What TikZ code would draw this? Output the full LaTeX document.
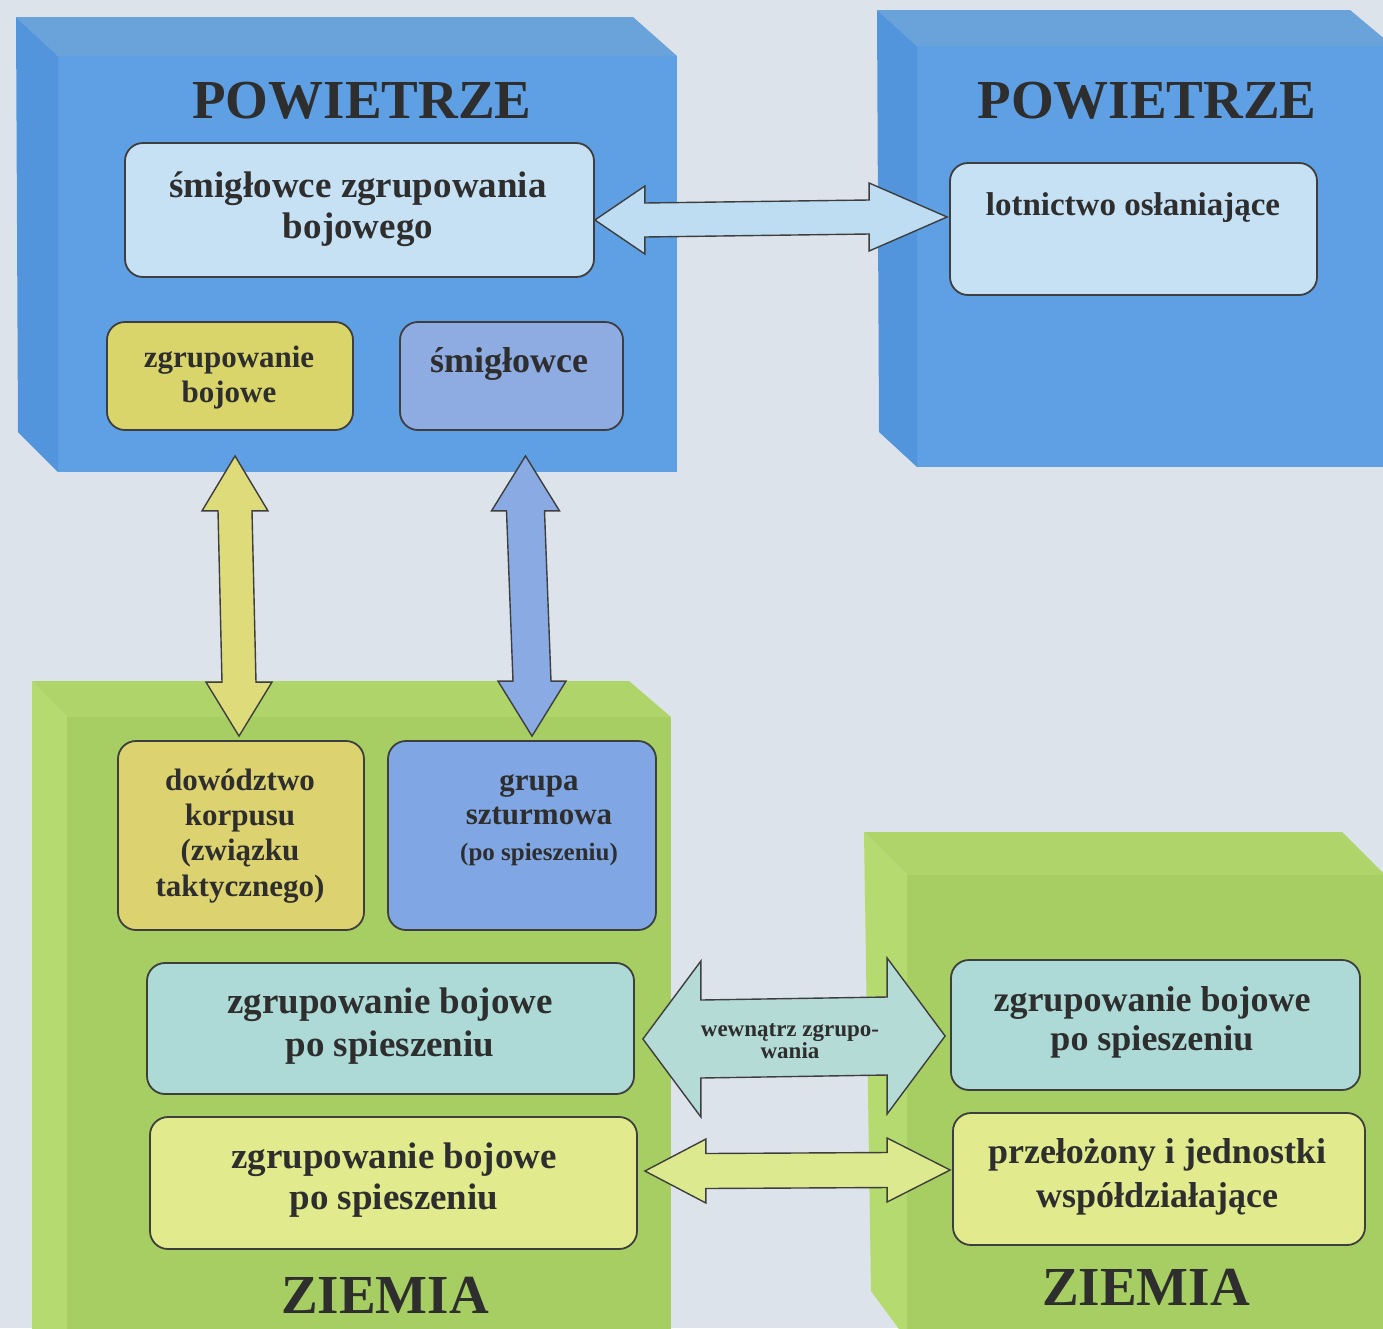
\documentclass[tikz,border=0pt]{standalone}
\usepackage{fontspec}
\setmainfont{Liberation Serif}
\usetikzlibrary{calc}
\definecolor{bg}{HTML}{DDE3EA}
\definecolor{blfront}{HTML}{5EA0E3}
\definecolor{bltop}{HTML}{6AA2DA}
\definecolor{blleft}{HTML}{5295DD}
\definecolor{grfront}{HTML}{A6CE62}
\definecolor{grtop}{HTML}{AED46A}
\definecolor{grleft}{HTML}{B5DA70}
\definecolor{lightblue}{HTML}{C6E0F4}
\definecolor{yelbox}{HTML}{D9D56A}
\definecolor{violbox}{HTML}{8EABE2}
\definecolor{yelbox2}{HTML}{DDD270}
\definecolor{bluebox}{HTML}{80A7E3}
\definecolor{tealbox}{HTML}{ADDAD6}
\definecolor{ygbox}{HTML}{E1EB8E}
\definecolor{arrblue}{HTML}{BEDCF2}
\definecolor{arryel}{HTML}{DEDB7A}
\definecolor{arrviol}{HTML}{89AAE3}
\definecolor{arrteal}{HTML}{B4DBD6}
\definecolor{arryg}{HTML}{DDE98E}
\definecolor{txt}{HTML}{2E2E2E}
\definecolor{edge}{HTML}{3E3E3E}
\newcommand\fs[2]{\fontsize{#1}{#2}\selectfont\bfseries}
\newcommand\harrow[7]{%
  \draw[arrline, fill=#7] let \p1=(#1), \p2=(#2) in
   (\p1) -- (\x1+#5pt,\y1+#4pt) -- (\x1+#5pt,\y1+#3pt) -- (\x2-#6pt,\y2+#3pt)
   -- (\x2-#6pt,\y2+#4pt) -- (\p2) -- (\x2-#6pt,\y2-#4pt) -- (\x2-#6pt,\y2-#3pt)
   -- (\x1+#5pt,\y1-#3pt) -- (\x1+#5pt,\y1-#4pt) -- cycle;}
\newcommand\varrow[7]{%
  \draw[arrline, fill=#7] let \p1=(#1), \p2=(#2) in
   (\p1) -- (\x1+#4pt,\y1-#5pt) -- (\x1+#3pt,\y1-#5pt) -- (\x2+#3pt,\y2+#6pt)
   -- (\x2+#4pt,\y2+#6pt) -- (\p2) -- (\x2-#4pt,\y2+#6pt) -- (\x2-#3pt,\y2+#6pt)
   -- (\x1-#3pt,\y1-#5pt) -- (\x1-#4pt,\y1-#5pt) -- cycle;}
\tikzset{
  box/.style={draw=edge, line width=1.8pt, rounded corners=18pt, inner sep=0pt},
  lbl/.style={text=txt, align=center, anchor=base, inner sep=0pt},
  arrline/.style={draw=edge, line width=1.4pt, line join=miter},
}
\begin{document}
\begin{tikzpicture}[x=1pt,y=-1pt]
\useasboundingbox (0,0) rectangle (1383,1328);
\fill[bg] (0,0) rectangle (1383,1328);
\begin{scope}
\clip (0,0) rectangle (1383,1328);
% top-left blue block
\fill[blfront] (58,56) rectangle (677,472);
\fill[bltop] (16,17) -- (633,17) -- (677,56) -- (58,56) -- cycle;
\fill[blleft] (16,17) -- (58,56) -- (58,472) -- (18,432) -- cycle;
% top-right blue block
\fill[blfront] (917,46) rectangle (1390,467);
\fill[bltop] (877,10) -- (1350,10) -- (1393,46) -- (917,46) -- cycle;
\fill[blleft] (877,10) -- (917,46) -- (917,467) -- (879,432) -- cycle;
% bottom-left green block
\fill[grfront] (67,717) rectangle (671,1340);
\fill[grtop] (32,681) -- (629,681) -- (671,717) -- (67,717) -- cycle;
\fill[grleft] (32,681) -- (67,717) -- (67,1340) -- (32,1340) -- cycle;
% bottom-right green block
\fill[grfront] (907,875) rectangle (1390,1340);
\fill[grtop] (864,832) -- (1342,832) -- (1385,875) -- (907,875) -- cycle;
\fill[grleft] (864,832) -- (907,875) -- (907,1340) -- (871,1291) -- cycle;
\end{scope}
% boxes
\node[box, fill=lightblue, minimum width=469pt, minimum height=134pt] (hsz) at (359.5,210) {};
\node[box, fill=yelbox, minimum width=246pt, minimum height=108pt] (zb) at (230,376) {};
\node[box, fill=violbox, minimum width=223pt, minimum height=108pt] (smig) at (511.5,376) {};
\node[box, fill=lightblue, minimum width=367pt, minimum height=132pt] (lot) at (1133.5,229) {};
\node[box, fill=yelbox2, minimum width=246pt, minimum height=189pt] (dow) at (241,835.5) {};
\node[box, fill=bluebox, minimum width=268pt, minimum height=189pt] (grp) at (522,835.5) {};
\node[box, fill=tealbox, minimum width=487pt, minimum height=131pt] (teal1) at (390.5,1028.5) {};
\node[box, fill=ygbox, minimum width=487pt, minimum height=132pt] (yg1) at (393.5,1183) {};
\node[box, fill=tealbox, minimum width=409pt, minimum height=130pt] (teal2) at (1155.5,1025) {};
\node[box, fill=ygbox, minimum width=412pt, minimum height=132pt] (yg2) at (1159,1179) {};
% connector end points
\coordinate (a1) at (hsz.east |- 0,220);
\coordinate (a2) at ($(lot.west |- 0,217)+(-2,0)$);
\coordinate (b1) at ($(zb.south)+(5,25)$);
\coordinate (b2) at ($(dow.north)+(-2,-4)$);
\coordinate (c1) at ($(smig.south)+(14,25)$);
\coordinate (c2) at ($(grp.north)+(10,-4)$);
\coordinate (d1) at ($(teal1.east |- 0,1039)+(8,0)$);
\coordinate (d2) at ($(teal2.west |- 0,1036)+(-5,0)$);
\coordinate (e1) at ($(yg1.east |- 0,1171)+(7,0)$);
\coordinate (e2) at ($(yg2.west |- 0,1170)+(-2,0)$);
% arrows
\harrow{a1}{a2}{17}{34}{50}{78}{arrblue}
\varrow{b1}{b2}{17}{33}{55}{54}{arryel}
\varrow{c1}{c2}{19}{34}{55}{55}{arrviol}
\harrow{d1}{d2}{39}{78}{58}{58}{arrteal}
\harrow{e1}{e2}{17.5}{32}{61}{63}{arryg}
% texts (anchor = baseline of the last line)
\node[lbl, font=\fs{55}{60}] (t1) at (362,118) {POWIETRZE};
\node[lbl, font=\fs{55}{60}] (t2) at (1147,118) {POWIETRZE};
\node[lbl, font=\fs{55}{60}] (t3) at (385,1313) {ZIEMIA};
\node[lbl, font=\fs{55}{60}] (t4) at (1146,1305) {ZIEMIA};
\node[lbl, font=\fs{37}{41}] (t5) at (358,238) {śmigłowce zgrupowania\\bojowego};
\node[lbl, font=\fs{33}{40}] (t6) at (1133,215) {lotnictwo osłaniające};
\node[lbl, font=\fs{31}{35}] (t7) at (229,402) {zgrupowanie\\bojowe};
\node[lbl, font=\fs{36}{40}] (t8) at (509,372) {śmigłowce};
\node[lbl, font=\fs{31}{35.3}] (t9) at (240,896) {dowództwo\\korpusu\\(związku\\taktycznego)};
\node[lbl, font=\fs{31}{34}] (t10) at (539,824) {grupa\\szturmowa};
\node[lbl, font=\fs{25}{30}] (t11) at (539,860) {(po spieszeniu)};
\node[lbl, font=\fs{37}{43}] (t12) at (390,1056) {zgrupowanie bojowe\\po spieszeniu};
\node[lbl, font=\fs{37}{41}] (t13) at (394,1209) {zgrupowanie bojowe\\po spieszeniu};
\node[lbl, font=\fs{36}{39}] (t14) at (1152,1050) {zgrupowanie bojowe\\po spieszeniu};
\node[lbl, font=\fs{36}{44}] (t15) at (1157,1207) {przełożony i jednostki\\współdziałające};
\node[lbl, font=\fs{23}{22}] (t16) at (790,1058) {wewnątrz zgrupo-\\wania};
\end{tikzpicture}
\end{document}
